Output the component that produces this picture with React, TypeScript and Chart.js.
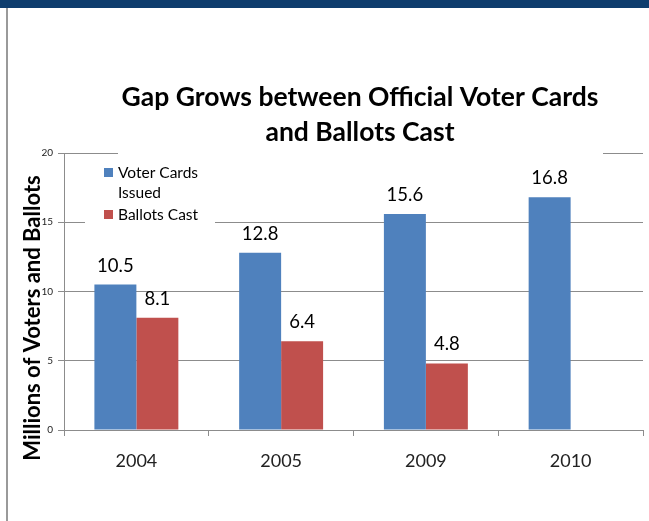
import React, { useEffect, useRef } from "react";
import { Chart, registerables } from "chart.js";

Chart.register(...registerables);

const categories = ["2004", "2005", "2009", "2010"];
const voterCards = [10.5, 12.8, 15.6, 16.8];
const ballotsCast: (number | null)[] = [8.1, 6.4, 4.8, null];
const yTickValues = [0, 5, 10, 15, 20];
const titleLines = ["Gap Grows between Official Voter Cards", "and Ballots Cast"];
const yAxisTitle = "Millions of Voters and Ballots";
const seriesNames = [["Voter Cards", "Issued"], ["Ballots Cast"]];

const BLUE = "#4F81BD";
const RED = "#C0504D";
const GRID = "#8c8c8c";
const FONT = "Lato, 'Open Sans', sans-serif";

const decorPlugin = {
  id: "decor",
  beforeDraw(chart: any) {
    const ctx = chart.ctx;
    ctx.save();
    ctx.fillStyle = "#ffffff";
    ctx.fillRect(0, 0, chart.width, chart.height);
    ctx.fillStyle = "#0e3d6d";
    ctx.fillRect(0, 0, chart.width, 8);
    ctx.fillStyle = "#9a9a9a";
    ctx.fillRect(6, 8, 2, chart.height - 8);
    ctx.restore();
  },
  afterDraw(chart: any) {
    const ctx = chart.ctx;
    ctx.save();
    // title backdrop
    ctx.fillStyle = "#ffffff";
    ctx.fillRect(118, 75, 485, 80);
    ctx.fillStyle = "#000000";
    ctx.font = `bold 26.5px ${FONT}`;
    ctx.textAlign = "center";
    ctx.textBaseline = "middle";
    const cx = 360;
    ctx.fillText(titleLines[0], cx, 97);
    ctx.fillText(titleLines[1], cx, 132);

    // legend backdrop
    ctx.fillStyle = "#ffffff";
    ctx.fillRect(85, 160, 130, 66);
    ctx.font = `15.5px ${FONT}`;
    ctx.textAlign = "left";
    ctx.fillStyle = BLUE;
    ctx.fillRect(104, 168, 9, 9);
    ctx.fillStyle = RED;
    ctx.fillRect(104, 210, 9, 9);
    ctx.fillStyle = "#000000";
    ctx.fillText(seriesNames[0][0], 118, 173);
    ctx.fillText(seriesNames[0][1], 118, 193);
    ctx.fillText(seriesNames[1][0], 118, 215);

    // y axis title
    ctx.translate(40, 318);
    ctx.rotate(-Math.PI / 2);
    ctx.font = `bold 22px ${FONT}`;
    ctx.textAlign = "center";
    ctx.textBaseline = "alphabetic";
    ctx.fillText(yAxisTitle, 0, 0);
    ctx.restore();

    // data labels
    ctx.save();
    ctx.font = `18.5px ${FONT}`;
    ctx.fillStyle = "#000000";
    ctx.textAlign = "center";
    ctx.textBaseline = "middle";
    chart.data.datasets.forEach((ds: any, di: number) => {
      const meta = chart.getDatasetMeta(di);
      meta.data.forEach((bar: any, i: number) => {
        const v = ds.data[i];
        if (v === null || v === undefined) return;
        ctx.fillText(v.toFixed(1), bar.x, bar.y - 19);
      });
    });
    ctx.restore();
  },
};

export default function App() {
  const ref = useRef<HTMLCanvasElement>(null);
  useEffect(() => {
    if (!ref.current) return;
    const chart = new Chart(ref.current, {
      type: "bar",
      data: {
        labels: categories,
        datasets: [
          { label: "Voter Cards Issued", data: voterCards, backgroundColor: BLUE, barPercentage: 1, categoryPercentage: 0.58 },
          { label: "Ballots Cast", data: ballotsCast, backgroundColor: RED, barPercentage: 1, categoryPercentage: 0.58 },
        ],
      },
      options: {
        responsive: false,
        animation: false,
        devicePixelRatio: 1,
        layout: { padding: { top: 153, right: 6, left: 0, bottom: 0 } },
        plugins: { legend: { display: false }, title: { display: false }, tooltip: { enabled: false } },
        scales: {
          x: {
            grid: { drawOnChartArea: false, color: GRID, tickLength: 6, offset: true },
            border: { color: GRID },
            ticks: { font: { family: FONT, size: 18 }, color: "#222", padding: 14 },
            afterFit: (s: any) => { s.height = 91; },
          },
          y: {
            min: 0,
            max: 20,
            afterBuildTicks: (s: any) => { s.ticks = yTickValues.map((v) => ({ value: v })); },
            grid: { color: GRID, tickLength: 6 },
            border: { color: GRID },
            ticks: { font: { family: FONT, size: 10 }, color: "#222", padding: 5 },
            afterFit: (s: any) => { s.width = 64; },
          },
        },
      },
      plugins: [decorPlugin],
    });
    return () => chart.destroy();
  }, []);
  return (
    <div style={{ position: "fixed", left: 0, top: 0, width: 649, height: 521 }}>
      <canvas ref={ref} width={649} height={521} style={{ width: 649, height: 521, display: "block" }} />
    </div>
  );
}
